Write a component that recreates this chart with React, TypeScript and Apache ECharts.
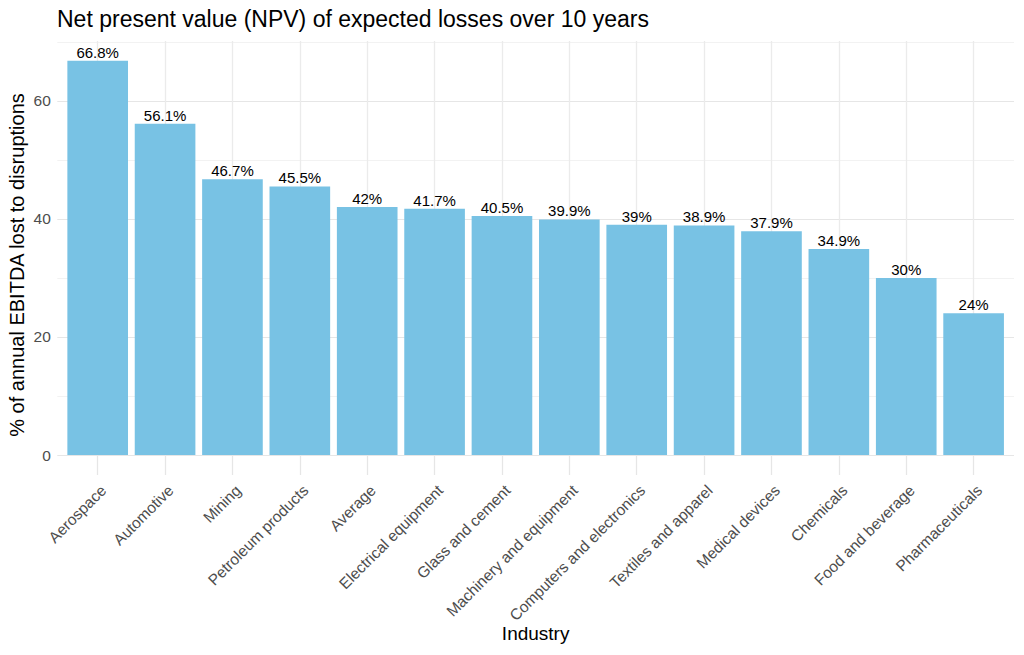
import React, { useEffect, useRef } from 'react';
import * as echarts from 'echarts';

const industries = [
  'Aerospace',
  'Automotive',
  'Mining',
  'Petroleum products',
  'Average',
  'Electrical equipment',
  'Glass and cement',
  'Machinery and equipment',
  'Computers and electronics',
  'Textiles and apparel',
  'Medical devices',
  'Chemicals',
  'Food and beverage',
  'Pharmaceuticals',
];
const lossShare = [66.8, 56.1, 46.7, 45.5, 42, 41.7, 40.5, 39.9, 39, 38.9, 37.9, 34.9, 30, 24];
const majorTicks = [0, 20, 40, 60];

const FONT = '"Liberation Sans", Arial, Helvetica, sans-serif';
const Y_MAX = 70.14; // ggplot's 5% expansion above the tallest bar

// helper axis in tenths of a category: panel spans -0.6 .. n-0.4 (ggplot discrete expansion)
const slots = Array.from({ length: (industries.length - 1) * 10 + 13 }, (_, i) => String(i));
const isCenter = (i: number) => i % 10 === 6;

const App = () => {
  const chartRef = useRef<HTMLDivElement>(null);

  useEffect(() => {
    document.body.style.margin = '0';
    const chartDom = chartRef.current;
    if (!chartDom) return;

    const myChart = echarts.init(chartDom, undefined, { renderer: 'svg' });

    const option = {
      animation: false,
      textStyle: { fontFamily: FONT },
      title: {
        text: 'Net present value (NPV) of expected losses over 10 years',
        left: 57,
        top: 7,
        padding: 0,
        textStyle: { fontSize: 23, fontWeight: 'normal', color: '#000', fontFamily: FONT },
      },
      grid: [
        // panel: grid lines
        { left: 57.3, right: 10, top: 41, bottom: 200, containLabel: false, outerBoundsMode: 'none' },
        // bars
        { left: 64, right: 16.7, top: 41, bottom: 200, containLabel: false, outerBoundsMode: 'none' },
      ],
      xAxis: [
        {
          gridIndex: 0,
          type: 'category',
          boundaryGap: false,
          data: slots,
          axisLine: { show: false },
          axisLabel: { show: false },
          axisTick: { show: true, interval: isCenter, length: 20, lineStyle: { color: '#e6e6e6', width: 1.3 } },
          splitLine: { show: true, interval: isCenter, lineStyle: { color: '#ebebeb', width: 1.3 } },
        },
        {
          gridIndex: 1,
          type: 'category',
          data: industries,
          name: 'Industry',
          nameLocation: 'middle',
          nameGap: 169,
          nameMoveOverlap: false,
          nameTextStyle: { fontSize: 19, color: '#000', fontFamily: FONT },
          axisLine: { show: false },
          axisTick: { show: false },
          splitLine: { show: false },
          axisLabel: {
            rotate: 45,
            interval: 0,
            margin: 27,
            verticalAlign: 'top',
            fontSize: 15.5,
            color: '#4d4d4d',
            fontFamily: FONT,
          },
        },
      ],
      yAxis: [
        {
          gridIndex: 0,
          type: 'value',
          min: 0,
          max: Y_MAX,
          interval: 10,
          name: '% of annual EBITDA lost to disruptions',
          nameLocation: 'middle',
          nameRotate: 90,
          nameGap: 30,
          nameMoveOverlap: false,
          nameTextStyle: { fontSize: 20, color: '#000', fontFamily: FONT, padding: [0, 34, 0, 0] },
          axisLine: { show: false },
          axisTick: { show: false },
          axisLabel: {
            margin: 6.5,
            fontSize: 15.5,
            color: '#4d4d4d',
            fontFamily: FONT,
            formatter: (v: number) => (majorTicks.includes(v) ? String(v) : ''),
          },
          splitLine: {
            show: true,
            lineStyle: {
              color: ['#e6e6e6', '#f2f2f2', '#e6e6e6', '#f2f2f2', '#e6e6e6', '#f2f2f2', '#e6e6e6', '#f2f2f2', 'rgba(0,0,0,0)'],
              width: 1.2,
            },
          },
        },
        { gridIndex: 1, type: 'value', min: 0, max: Y_MAX, show: false },
      ],
      series: [
        {
          type: 'bar',
          xAxisIndex: 1,
          yAxisIndex: 1,
          data: lossShare,
          barWidth: '90%',
          itemStyle: { color: '#78c2e4' },
          label: {
            show: true,
            position: 'top',
            distance: 1,
            formatter: (p: any) => `${p.value}%`,
            fontSize: 15,
            color: '#000',
            fontFamily: FONT,
          },
        },
      ],
    };

    myChart.setOption(option as any);

    return () => {
      myChart.dispose();
    };
  }, []);

  return <div ref={chartRef} style={{ width: '1024px', height: '655px' }}></div>;
};

export default App;
